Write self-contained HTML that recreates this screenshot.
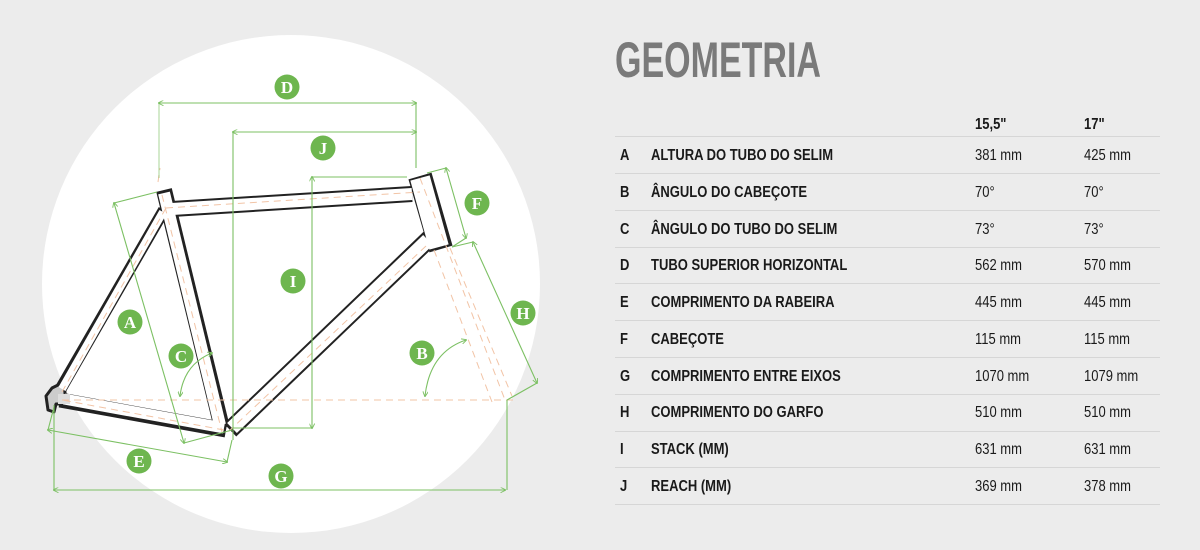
<!DOCTYPE html>
<html><head><meta charset="utf-8"><style>
html,body{margin:0;padding:0;background:#ececec;}
svg{display:block}
.t{font-family:"Liberation Sans",sans-serif;font-size:15.5px;fill:#1a1a1a}
.b{font-weight:bold}
.l{font-family:"Liberation Serif",serif;font-size:17px;fill:#fff;text-anchor:middle;font-weight:bold}
</style></head><body>
<svg width="1200" height="550" viewBox="0 0 1200 550" xmlns="http://www.w3.org/2000/svg">
<defs>
<marker id="ar" viewBox="0 0 6 6" refX="5" refY="3" markerWidth="5" markerHeight="5" orient="auto-start-reverse"><path d="M0 0 L6 3 L0 6" fill="none" stroke="#7cc063" stroke-width="1"/></marker>
</defs>
<rect width="1200" height="550" fill="#ececec"/>
<circle cx="291" cy="284" r="249" fill="#fff"/>

<!-- frame black outline -->
<g fill="none" stroke="#222" stroke-linejoin="round" stroke-linecap="butt">
<path d="M172 209 L412 194" stroke-width="16"/>
<path d="M420 176 L441 249" stroke-width="24"/>
<path d="M430 238 L230 430" stroke-width="18"/>
<path d="M164 190 L222 428" stroke-width="16"/>
<path d="M226 430 L60 400" stroke-width="15"/>
<path d="M164 210 L60 390" stroke-width="12"/>
<path d="M52 388 L64 382 L66 404 L56 404 L54 412 L48 410 L46 396 Z" stroke-width="3" fill="#ccc"/>
</g>
<g fill="none" stroke="#fff" stroke-linejoin="round">
<path d="M172 209 L412 194" stroke-width="12"/>
<path d="M420 178 L439 247" stroke-width="20"/>
<path d="M428 240 L232 428" stroke-width="14"/>
<path d="M164 193 L220 425" stroke-width="12"/>
<path d="M224 428 L64 399" stroke-width="11"/>
<path d="M163 212 L62 389" stroke-width="8"/>
</g>
<rect x="58" y="394" width="12" height="10" fill="#ddd"/>

<!-- orange dashed centerlines -->
<g fill="none" stroke="#f2c4a6" stroke-width="1" stroke-dasharray="7 5">
<path d="M62 400 L515 400"/>
<path d="M162 195 L222 432"/>
<path d="M166 208 L420 192"/>
<path d="M426 246 L228 432"/>
<path d="M62 392 L166 208"/>
<path d="M224 430 L62 400"/>
<path d="M420 178 L505 400"/>
<path d="M434 250 L492 402"/>
<path d="M450 248 L512 396"/>
<path d="M158 182 L160 168"/>
</g>

<!-- green dimensions -->
<g fill="none" stroke="#7cc063" stroke-width="1.1">
<path d="M159 103 L416 103" marker-start="url(#ar)" marker-end="url(#ar)"/>
<path d="M159 103 L159 178" opacity=".6"/>
<path d="M416 103 L416 168"/>
<path d="M233 132 L416 132" marker-start="url(#ar)" marker-end="url(#ar)"/>
<path d="M233 132 L233 440"/>
<path d="M312 177 L312 428" marker-start="url(#ar)" marker-end="url(#ar)"/>
<path d="M312 177 L407 177 M233 428 L312 428"/>
<path d="M446 168 L466 238" marker-start="url(#ar)" marker-end="url(#ar)"/>
<path d="M427 173 L446 168 M452 247 L466 238"/>
<path d="M473 242 L537 383" marker-start="url(#ar)" marker-end="url(#ar)"/>
<path d="M452 247 L473 242 M507 400 L537 383"/>
<path d="M114 203 L184 443" marker-start="url(#ar)" marker-end="url(#ar)"/>
<path d="M114 203 L157 192 M184 443 L232 430"/>
<path d="M48 430 L227 462" marker-start="url(#ar)" marker-end="url(#ar)"/>
<path d="M48 430 L54 407 M227 462 L232 440"/>
<path d="M54 490 L505 490" marker-start="url(#ar)" marker-end="url(#ar)"/>
<path d="M54 490 L54 405 M507 490 L507 400"/>
<path d="M180 396 Q184 364 212 353" marker-start="url(#ar)" marker-end="url(#ar)"/>
<path d="M425 396 Q430 352 466 340" marker-start="url(#ar)" marker-end="url(#ar)"/>
</g>
<g fill="#6eb64f">
<circle cx="287" cy="87" r="12.5"/><circle cx="323" cy="148" r="12.5"/>
<circle cx="477" cy="203" r="12.5"/><circle cx="293" cy="281" r="12.5"/>
<circle cx="523" cy="313" r="12.5"/><circle cx="130" cy="322" r="12.5"/>
<circle cx="181" cy="356" r="12.5"/><circle cx="422" cy="353" r="12.5"/>
<circle cx="139" cy="461" r="12.5"/><circle cx="281" cy="476" r="12.5"/>
</g>
<g class="l">
<text x="287" y="93">D</text><text x="323" y="154">J</text>
<text x="477" y="209">F</text><text x="293" y="287">I</text>
<text x="523" y="319">H</text><text x="130" y="328">A</text>
<text x="181" y="362">C</text><text x="422" y="359">B</text>
<text x="139" y="467">E</text><text x="281" y="482">G</text>
</g>

<!-- title -->
<text x="615" y="77" textLength="206" lengthAdjust="spacingAndGlyphs" font-family="Liberation Sans, sans-serif" font-weight="bold" font-size="50" fill="#7a7a7a">GEOMETRIA</text>

<!-- table -->
<g stroke="#d6d6d6" stroke-width="1">
<path d="M615 136.5H1160M615 173.5H1160M615 210.5H1160M615 247.5H1160M615 283.5H1160M615 320.5H1160M615 357.5H1160M615 394.5H1160M615 431.5H1160M615 467.5H1160M615 504.5H1160"/>
</g>
<g class="t b" transform="translate(620,0) scale(0.84,1)">
<text x="0" y="160">A</text><text x="0" y="197">B</text><text x="0" y="234">C</text><text x="0" y="270">D</text><text x="0" y="307">E</text><text x="0" y="344">F</text><text x="0" y="381">G</text><text x="0" y="417">H</text><text x="0" y="454">I</text><text x="0" y="491">J</text>
</g>
<g class="t b" transform="translate(651,0) scale(0.84,1)">
<text x="0" y="160">ALTURA DO TUBO DO SELIM</text>
<text x="0" y="197">ÂNGULO DO CABEÇOTE</text>
<text x="0" y="234">ÂNGULO DO TUBO DO SELIM</text>
<text x="0" y="270">TUBO SUPERIOR HORIZONTAL</text>
<text x="0" y="307">COMPRIMENTO DA RABEIRA</text>
<text x="0" y="344">CABEÇOTE</text>
<text x="0" y="381">COMPRIMENTO ENTRE EIXOS</text>
<text x="0" y="417">COMPRIMENTO DO GARFO</text>
<text x="0" y="454">STACK (MM)</text>
<text x="0" y="491">REACH (MM)</text>
</g>
<g class="t" transform="translate(975,0) scale(0.84,1)">
<text class="b" x="0" y="129">15,5"</text>
<text x="0" y="160">381 mm</text><text x="0" y="197">70°</text><text x="0" y="234">73°</text><text x="0" y="270">562 mm</text><text x="0" y="307">445 mm</text><text x="0" y="344">115 mm</text><text x="0" y="381">1070 mm</text><text x="0" y="417">510 mm</text><text x="0" y="454">631 mm</text><text x="0" y="491">369 mm</text>
</g>
<g class="t" transform="translate(1084,0) scale(0.84,1)">
<text class="b" x="0" y="129">17"</text>
<text x="0" y="160">425 mm</text><text x="0" y="197">70°</text><text x="0" y="234">73°</text><text x="0" y="270">570 mm</text><text x="0" y="307">445 mm</text><text x="0" y="344">115 mm</text><text x="0" y="381">1079 mm</text><text x="0" y="417">510 mm</text><text x="0" y="454">631 mm</text><text x="0" y="491">378 mm</text>
</g>
</svg>
</body></html>
